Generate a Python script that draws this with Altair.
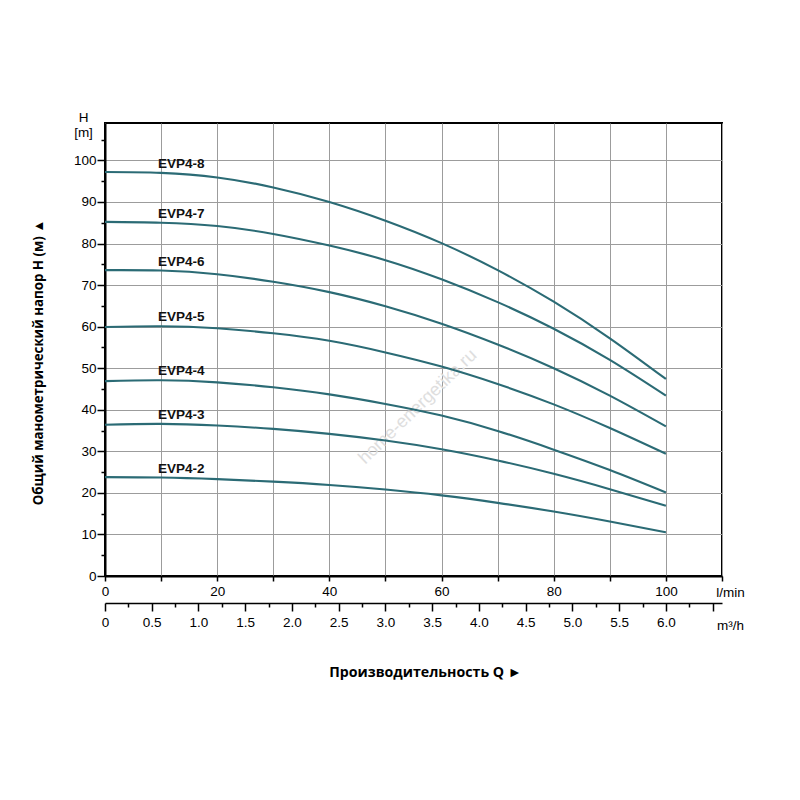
import altair as alt
import pandas as pd

# ---- data ----
flow_lmin = [0, 10, 20, 30, 40, 50, 60, 70, 80, 90, 100]
series_names = ["EVP4-8", "EVP4-7", "EVP4-6", "EVP4-5", "EVP4-4", "EVP4-3", "EVP4-2"]
head_evp4_8 = [97.2, 97.0, 95.9, 93.5, 90.0, 85.5, 80.1, 73.6, 66.0, 57.2, 47.4]
head_evp4_7 = [85.2, 85.0, 84.2, 82.3, 79.5, 76.0, 71.4, 65.9, 59.5, 52.0, 43.4]
head_evp4_6 = [73.6, 73.5, 72.6, 70.8, 68.3, 64.9, 60.7, 55.7, 50.0, 43.4, 36.0]
head_evp4_5 = [59.9, 60.1, 59.6, 58.4, 56.6, 53.8, 50.4, 46.2, 41.3, 35.6, 29.4]
head_evp4_4 = [46.9, 47.1, 46.6, 45.4, 43.7, 41.4, 38.6, 34.9, 30.4, 25.5, 20.1]
head_evp4_3 = [36.4, 36.6, 36.2, 35.4, 34.2, 32.6, 30.5, 27.8, 24.6, 20.9, 16.9]
head_evp4_2 = [23.8, 23.7, 23.3, 22.7, 21.9, 20.8, 19.4, 17.6, 15.5, 13.1, 10.5]
heads = [head_evp4_8, head_evp4_7, head_evp4_6, head_evp4_5,
         head_evp4_4, head_evp4_3, head_evp4_2]

x_ticks_lmin = [0, 10, 20, 30, 40, 50, 60, 70, 80, 90, 100, 110]
y_major = [0, 10, 20, 30, 40, 50, 60, 70, 80, 90, 100]
y_minor = [5, 15, 25, 35, 45, 55, 65, 75, 85, 95, 105]
m3h_major = [0, 0.5, 1.0, 1.5, 2.0, 2.5, 3.0, 3.5, 4.0, 4.5, 5.0, 5.5, 6.0, 6.5]
m3h_minor = [0.25, 0.75, 1.25, 1.75, 2.25, 2.75, 3.25, 3.75, 4.25, 4.75, 5.25, 5.75, 6.25]
LMIN_PER_M3H = 1000 / 60

y_title = "Общий манометрический напор H (м) ▲"
x_title = "Производительность Q ►"
watermark = "home-energetika.ru"

rows = []
for name, hs in zip(series_names, heads):
    for q, h in zip(flow_lmin, hs):
        rows.append({"model": name, "q": q, "h": h})
df = pd.DataFrame(rows)
label_df = pd.DataFrame([{"model": n, "q": flow_lmin[1], "h": hs[1]}
                         for n, hs in zip(series_names, heads)])
wm_df = pd.DataFrame([{"t": watermark}])

LINE = "#2b6b75"
GRID = "#9c9c9c"
LAB_FONT = "Liberation Sans"
TITLE_FONT = "Open Sans"

x_scale = alt.Scale(domain=[0, 110], nice=False, zero=False)
y_scale = alt.Scale(domain=[0, 109], nice=False, zero=False)

x_axis_main = alt.Axis(
    orient="bottom", values=x_ticks_lmin, grid=True, gridColor=GRID, gridWidth=1,
    tickSize=5, tickColor="black", tickWidth=1.5, domainColor="black", domainWidth=2,
    labelExpr="datum.value % 20 == 0 && datum.value <= 100 ? datum.label : ''",
    labelFont=LAB_FONT, labelFontSize=13.5, labelColor="black", labelPadding=3,
    labelFlush=False, labelOverlap=False,
    title="l/min", titleFont=LAB_FONT, titleFontSize=13.5, titleFontWeight="normal",
    titleColor="black", titleX=625, titleY=16, titleAlign="center",
    titleBaseline="middle",
)
y_axis_main = alt.Axis(
    orient="left", values=y_major, grid=True, gridColor=GRID, gridWidth=1,
    tickSize=8, tickColor="black", tickWidth=1.5, domainColor="black", domainWidth=2,
    labelFont=LAB_FONT, labelFontSize=13.5, labelColor="black", labelPadding=1,
    labelOverlap=False,
    title=y_title, titleFont=TITLE_FONT, titleFontSize=13.3, titleFontWeight="bold",
    titleColor="black", titleAngle=270, titleX=-67, titleY=239, titleAlign="center",
    titleBaseline="middle",
)
y_axis_minor = alt.Axis(
    orient="left", values=y_minor, grid=False, domain=False, labels=False,
    tickSize=4, tickColor="black", tickWidth=1.5,
    title=["H", "[m]"], titleFont=LAB_FONT, titleFontSize=13.5, titleFontWeight="normal",
    titleColor="black", titleAngle=0, titleX=-22, titleY=-2, titleAlign="center",
    titleBaseline="alphabetic", titleLineHeight=15,
)
m3h_axis_major = alt.Axis(
    orient="bottom", offset=27, values=[v * LMIN_PER_M3H for v in m3h_major],
    grid=False, domain=True, domainColor="black", domainWidth=1.5,
    tickSize=8, tickColor="black", tickWidth=1.5,
    labelExpr="datum.value < 1 ? '0' : (datum.value > 105 ? '' : format(datum.value * 0.06, '.1f'))",
    labelFont=LAB_FONT, labelFontSize=13.5, labelColor="black", labelPadding=4,
    labelFlush=False, labelOverlap=False,
    title="m³/h", titleFont=LAB_FONT, titleFontSize=13.5, titleFontWeight="normal",
    titleColor="black", titleX=625, titleY=22, titleAlign="center",
    titleBaseline="middle",
)
m3h_axis_minor = alt.Axis(
    orient="bottom", offset=27, values=[v * LMIN_PER_M3H for v in m3h_minor],
    grid=False, domain=False, labels=False, tickSize=4, tickColor="black", tickWidth=1.5,
    title=x_title, titleFont=TITLE_FONT, titleFontSize=14.2, titleFontWeight="bold",
    titleColor="black", titleX=320, titleY=69, titleAlign="center", titleBaseline="middle",
)

base = alt.Chart(df)

wm = alt.Chart(wm_df).mark_text(
    font=LAB_FONT, fontSize=18, color="#dedede", angle=316, align="center", baseline="middle"
).encode(x=alt.value(313), y=alt.value(284), text="t:N")

lines = base.mark_line(interpolate="natural", color=LINE, strokeWidth=2.1).encode(
    x=alt.X("q:Q", scale=x_scale, axis=x_axis_main),
    y=alt.Y("h:Q", scale=y_scale, axis=y_axis_main),
    detail="model:N",
)

labels = alt.Chart(label_df).mark_text(
    font=LAB_FONT, fontSize=13.5, fontWeight="bold", color="#111111",
    align="left", baseline="middle", dx=-3, dy=-9,
).encode(
    x=alt.X("q:Q", scale=x_scale, axis=None),
    y=alt.Y("h:Q", scale=y_scale, axis=None),
    text="model:N",
)

ghost_y = base.mark_point(opacity=0).encode(
    x=alt.X("q:Q", scale=x_scale, axis=None),
    y=alt.Y("h:Q", scale=y_scale, axis=y_axis_minor),
)
ghost_m3h = base.mark_point(opacity=0).encode(
    x=alt.X("q:Q", scale=x_scale, axis=m3h_axis_major),
    y=alt.Y("h:Q", scale=y_scale, axis=None),
)
ghost_m3h_minor = base.mark_point(opacity=0).encode(
    x=alt.X("q:Q", scale=x_scale, axis=m3h_axis_minor),
    y=alt.Y("h:Q", scale=y_scale, axis=None),
)

chart = alt.layer(
    wm, lines, labels, ghost_y, ghost_m3h, ghost_m3h_minor
).resolve_axis(
    x="independent", y="independent"
).properties(
    width=617, height=453,
    autosize=alt.AutoSizeParams(type="none"),
    padding={"left": 97, "top": 115, "right": 70, "bottom": 130},
    background="white",
).configure_view(
    stroke="black", strokeWidth=2
)

chart.save("out.html", embed_options={"renderer": "svg", "actions": False})
